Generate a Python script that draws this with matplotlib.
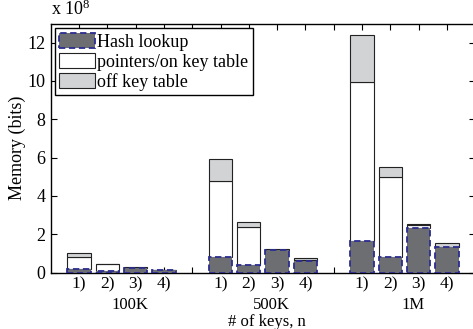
import matplotlib
matplotlib.use('Agg')
import matplotlib.pyplot as plt
import matplotlib.transforms as mtransforms
import numpy as np

plt.rcParams['font.family'] = 'Liberation Serif'
plt.rcParams['mathtext.fontset'] = 'custom'
plt.rcParams['mathtext.rm'] = 'Liberation Serif'
plt.rcParams['mathtext.default'] = 'regular'
plt.rcParams['font.size'] = 13

# values in units of 1e8 bits
groups = ['100K', '500K', '1M']
methods = ['1)', '2)', '3)', '4)']
hash_lookup = [0.17, 0.08, 0.24, 0.11, 0.82, 0.38, 1.16, 0.62, 1.66, 0.83, 2.30, 1.31]
pointers_on = [0.63, 0.36, 0.01, 0.00, 3.95, 1.99, 0.04, 0.02, 8.31, 4.15, 0.20, 0.01]
off_key = [0.24, 0.02, 0.02, 0.02, 1.15, 0.25, 0.05, 0.10, 2.42, 0.52, 0.01, 0.20]

dark = '#6d6e71'
light = '#d1d3d4'
navy = '#2b2d8f'

# bar positions: 4 bars per group, one empty slot between groups
pos = []
for g in range(len(groups)):
    pos += [g * 5 + i + 1 for i in range(len(methods))]
pos = np.array(pos)

fig = plt.figure(figsize=(4.73, 3.29), dpi=100)
ax = fig.add_axes([50.7 / 473, 1 - 272.5 / 329, 424.5 / 473, 249 / 329])

h = np.array(hash_lookup)
p = np.array(pointers_on)
o = np.array(off_key)
w = 0.82
ax.bar(pos, h, w, color=dark, edgecolor=navy, linewidth=1.3, linestyle=(0, (3.5, 2)),
       label='Hash lookup', zorder=3)
ax.bar(pos, p, w, bottom=h, color='white', edgecolor='#222222', linewidth=0.8,
       label='pointers/on key table', zorder=2)
ax.bar(pos, o, w, bottom=h + p, color=light, edgecolor='#222222', linewidth=0.8,
       label='off key table', zorder=2)

ax.set_xlim(0, 15)
ax.set_ylim(0, 13)
ax.set_yticks(range(0, 13, 2))
ax.set_yticklabels([str(v) for v in range(0, 13, 2)])
xt = list(range(1, 15))
ax.set_xticks(xt)
ax.set_xticklabels([methods[(t - 1) % 5] if (t % 5) != 0 else '' for t in xt])
ax.tick_params(direction='in', length=4, width=0.8, top=True, right=True, pad=4)
ax.tick_params(axis='x', pad=3, labelsize=12.5)
ax.set_axisbelow(True)
for s in ax.spines.values():
    s.set_linewidth(1.0)

trans = mtransforms.blended_transform_factory(ax.transData, ax.transAxes)
for g, name in enumerate(groups):
    ax.text(g * 5 + 2.8, -0.097, name, transform=trans, ha='center', va='top',
            fontsize=12)

ax.text(0.51, -0.168, '# of keys, n', transform=ax.transAxes, ha='center', va='top',
        fontsize=12)
ax.text(-0.079, 0.5, 'Memory (bits)', transform=ax.transAxes, ha='center', va='center',
        rotation=90)
ax.text(0.0, 1.02, r'x 10$^{8}$', transform=ax.transAxes, ha='left', va='bottom')

leg = ax.legend(loc='upper left', bbox_to_anchor=(0.01, 0.981), borderaxespad=0,
                fancybox=False, framealpha=1, edgecolor='black', handlelength=1.95,
                handleheight=0.93, handletextpad=0.15, labelspacing=0.12, borderpad=0.25)
leg.get_frame().set_linewidth(1.0)

fig.savefig('out.png', dpi=100)
